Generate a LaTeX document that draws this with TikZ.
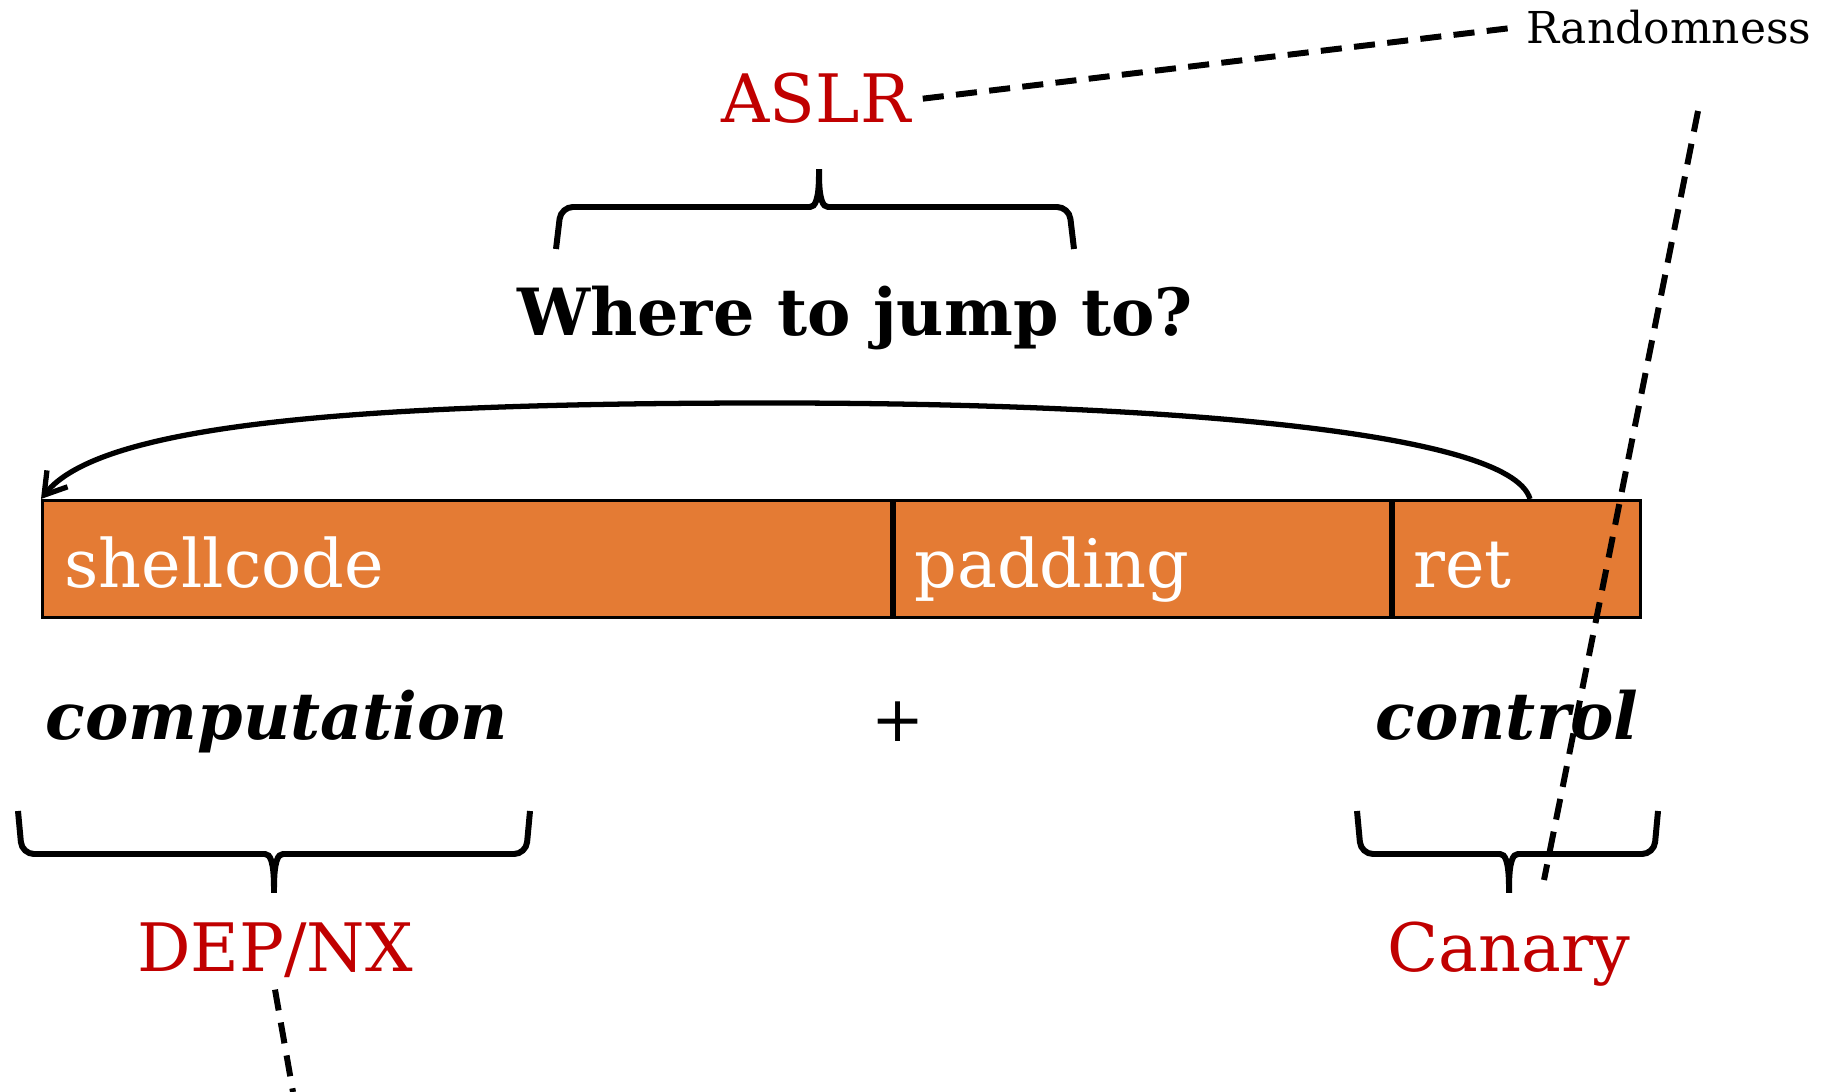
\documentclass[tikz,border=0pt]{standalone}
\usepackage{fontspec}
\setmainfont{DejaVu Serif}
\usetikzlibrary{arrows.meta, positioning}

\definecolor{payload}{HTML}{E47B34}
\definecolor{defence}{HTML}{C00000}

\tikzset{
    cell/.style={draw, line width=0.9pt, fill=payload, minimum height=1.17cm, inner sep=0pt},
    celltext/.style={text=white, font=\fontsize{19}{22}\selectfont, anchor=base west},
    defname/.style={text=defence, font=\fontsize{19}{22}\selectfont, anchor=base},
    bigword/.style={font=\bfseries\itshape\fontsize{18.5}{22}\selectfont, anchor=base},
    brace/.style={line width=1.7pt, rounded corners=0.12cm},
    dashline/.style={line width=1.7pt, dash pattern=on 6pt off 3.5pt},
}

\begin{document}
\begin{tikzpicture}[x=0.01cm, y=-0.01cm]
    \useasboundingbox (0,0) rectangle (1834,1092);

    % the buffer
    \node[cell, anchor=north west, minimum width=8.48cm] (shell) at (41,499) {};
    \node[cell, right=0pt of shell, minimum width=4.96cm] (pad) {};
    \node[cell, right=0pt of pad, minimum width=2.47cm] (ret) {};
    \node[celltext] (shelltxt) at (52,588) {shellcode};
    \node[celltext] (padtxt) at (902,588) {padding};
    \node[celltext] (rettxt) at (1401,588) {ret};

    % jump back to the start
    \coordinate (jmpfrom) at (1530,499);
    \draw[line width=1.5pt, -{Straight Barb[length=6pt,width=7.5pt]}] (jmpfrom)
        .. controls (1510,430) and (1150,403) .. (772,403)
        .. controls (350,403) and (100,425) .. (shell.north west);

    % where to jump to
    \node[font=\bfseries\fontsize{18.5}{22}\selectfont, anchor=base] (where) at (855,336) {Where to jump to?};
    \draw[brace] (556,249) -- (561,207) -- (798,207)
        .. controls (815,207) and (819,200) .. (819,162)
        .. controls (819,200) and (823,207) .. (840,207) -- (1069,207) -- (1074,249);
    \node[defname] (aslr) at (816,123) {ASLR};
    \node[anchor=base, font=\fontsize{12.5}{15}\selectfont] (rand) at (1669,44) {Randomness};
    \draw[dashline] (aslr.east) -- (rand.west);

    % computation + control
    \node[bigword] (comp) at (277,739) {computation};
    \node[font=\fontsize{18}{22}\selectfont] (plus) at (898,722) {+};
    \node[bigword] (ctrl) at (1507,739) {control};

    \draw[brace] (18,811) -- (22,854) -- (253,854)
        .. controls (270,854) and (274,861) .. (274,900)
        .. controls (274,861) and (278,854) .. (295,854) -- (526,854) -- (530,811);
    \draw[brace] (1357,811) -- (1361,854) -- (1488,854)
        .. controls (1505,854) and (1509,861) .. (1509,900)
        .. controls (1509,861) and (1513,854) .. (1530,854) -- (1654,854) -- (1658,811);
    \node[defname] (dep) at (275,971) {DEP/NX};
    \node[defname] (canary) at (1509,971) {Canary};

    % randomness line
    \coordinate (rndtop) at (1698,111);
    \coordinate (rndbot) at (1544,880);
    \draw[dashline] (rndtop) -- (rndbot);
    \coordinate (depout) at (293,1092);
    \draw[dashline] (dep.south) -- (depout);
\end{tikzpicture}
\end{document}
